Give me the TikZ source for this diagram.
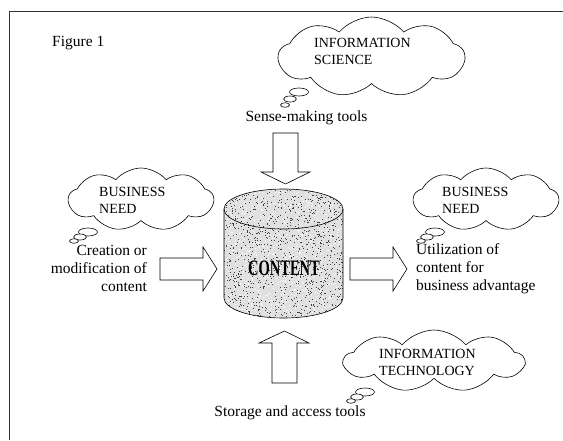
\documentclass[tikz,border=0pt]{standalone}
\usepackage{fontspec}
\setmainfont{Liberation Serif}
\usetikzlibrary{shapes.symbols,shapes.geometric}

\tikzset{
  thought/.style={cloud, draw, line width=0.6pt, cloud puffs=9,
    cloud puff arc=100, cloud ignores aspect, inner sep=0pt},
  puff/.style={ellipse, draw, line width=0.6pt, fill=white, inner sep=0pt},
  bigpuff/.style={puff, minimum width=19pt, minimum height=8pt},
  midpuff/.style={puff, minimum width=13pt, minimum height=6pt},
  smallpuff/.style={puff, minimum width=9pt, minimum height=4.5pt},
  blockarrow/.style={draw, line width=0.6pt, fill=white, line join=miter},
  caps/.style={inner sep=0pt, align=left, font=\fontsize{14}{17}\selectfont},
  body/.style={inner sep=0pt, font=\fontsize{15.5}{18}\selectfont},
  frameline/.style={draw=black!80, line width=0.7pt},
}

\begin{document}
\begin{tikzpicture}[x=1pt, y=-1pt]
\useasboundingbox (0,0) rectangle (563,440);

% frame edges
\coordinate (fr-corner) at (9,11);
\coordinate (fr-right) at (563,11);
\coordinate (fr-bottom) at (9,440);
\draw[frameline] (fr-bottom) -- (fr-corner) -- (fr-right);

\node[body, anchor=west] (fig) at (52,43) {Figure 1};

% thought clouds with their trailing puffs
\node[thought, minimum width=186pt, minimum height=80pt] (sci) at (371.5,57) {};
\node[bigpuff]   (sci-p1) at (299,92) {};
\node[midpuff]   (sci-p2) at (290,99) {};
\node[smallpuff] (sci-p3) at (285,105) {};
\node[caps, anchor=west] (sci-t) at (314,51.5) {INFORMATION\\SCIENCE};

\node[thought, minimum width=145pt, minimum height=63pt] (bnl) at (141,199.5) {};
\node[bigpuff]   (bnl-p1) at (88,232) {};
\node[midpuff]   (bnl-p2) at (80,237) {};
\node[smallpuff] (bnl-p3) at (74,241) {};
\node[caps, anchor=west] (bnl-t) at (99,200) {BUSINESS\\NEED};

\node[thought, minimum width=145pt, minimum height=63pt] (bnr) at (486,199.5) {};
\node[bigpuff]   (bnr-p1) at (435,232) {};
\node[midpuff]   (bnr-p2) at (427,237) {};
\node[smallpuff] (bnr-p3) at (421,241) {};
\node[caps, anchor=west] (bnr-t) at (442,200) {BUSINESS\\NEED};

\node[thought, minimum width=180pt, minimum height=62pt] (tech) at (434,361) {};
\node[bigpuff]   (tech-p1) at (365,392) {};
\node[midpuff]   (tech-p2) at (357,397) {};
\node[smallpuff] (tech-p3) at (351,401) {};
\node[caps, anchor=west] (tech-t) at (379,362) {INFORMATION\\TECHNOLOGY};

% content store (stippled cylinder)
\begin{scope}
  \clip (224,209) -- (224,298)
    arc[start angle=180, end angle=360, x radius=59.5pt, y radius=20pt]
    -- (343,209)
    arc[start angle=0, end angle=180, x radius=59.5pt, y radius=20pt] -- cycle;
  \fill[black!12] (220,185) rectangle (347,322);
  \pgfmathsetseed{42}
  \foreach \i in {1,...,1150} {
    \fill[black!75] ({224+119*rnd},{188+131*rnd}) rectangle ++(0.8,0.8);
  }
  \foreach \i in {1,...,900} {
    \fill[white] ({224+119*rnd},{188+131*rnd}) rectangle ++(0.9,0.9);
  }
\end{scope}
\draw[line width=0.6pt] (224,209) -- (224,298)
    arc[start angle=180, end angle=360, x radius=59.5pt, y radius=20pt]
    -- (343,209)
    arc[start angle=0, end angle=180, x radius=59.5pt, y radius=20pt];
\draw[line width=0.6pt] (224,209)
    arc[start angle=180, end angle=360, x radius=59.5pt, y radius=20pt];
\node[inner sep=0pt] (content) at (284,268)
  {\scalebox{0.66}[1]{\fontsize{22}{22}\selectfont\bfseries CONTENT}};

% block arrows
\draw[blockarrow] (273,133) -- (298,133) -- (298,172) -- (310,172)
  -- (285.5,184) -- (261,172) -- (273,172) -- cycle;
\draw[blockarrow] (272,383) -- (297,383) -- (297,343) -- (309,343)
  -- (284.5,331) -- (259,343) -- (272,343) -- cycle;
\draw[blockarrow] (160,258) -- (203,258) -- (203,247) -- (217,269)
  -- (203,291) -- (203,280) -- (160,280) -- cycle;
\draw[blockarrow] (350,258) -- (393,258) -- (393,247) -- (407,269)
  -- (393,291) -- (393,280) -- (350,280) -- cycle;

% captions
\node[body] (sense) at (306.5,118) {Sense-making tools};
\node[body, anchor=east, align=right] (create) at (147,268.5)
  {Creation or\\modification of\\content};
\node[body, anchor=west, align=left] (util) at (416,269)
  {Utilization of\\content for\\business advantage};
\node[body] (store) at (290,413) {Storage and access tools};
\end{tikzpicture}
\end{document}
